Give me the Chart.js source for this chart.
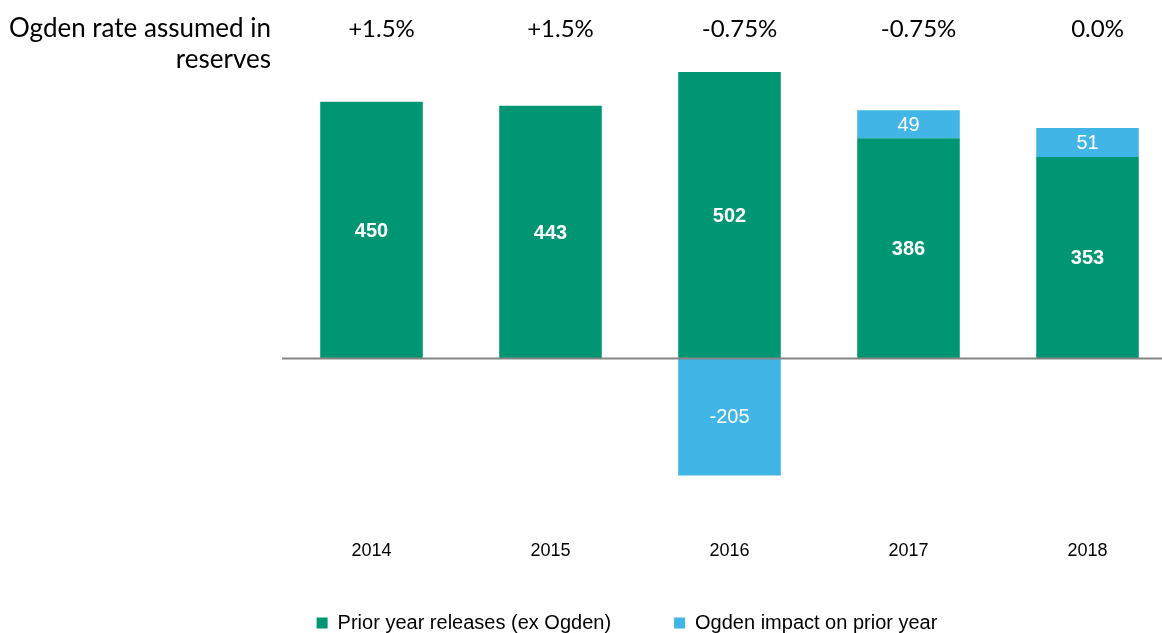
<!DOCTYPE html>
<html>
<head>
<meta charset="utf-8">
<script src="https://cdn.jsdelivr.net/npm/chart.js@4.4.1/dist/chart.umd.min.js"></script>
<style>
    html, body { margin: 0; padding: 0; background: #fff; overflow: hidden; }
    #wrap { position: relative; width: 1177px; height: 643px; }
</style>
</head>
<body>
<div id="wrap"><canvas id="ogdenChart"></canvas></div>
<script>
// Chart data
const years = ['2014', '2015', '2016', '2017', '2018'];
const priorYearReleases = [450, 443, 502, 386, 353];
const ogdenImpact = [null, null, -205, 49, 51];
const ogdenRates = ['+1.5%', '+1.5%', '-0.75%', '-0.75%', '0.0%'];
const rateTitle = ['Ogden rate assumed in', 'reserves'];
const yMin = -283;
const yMax = 558;

const GREEN = '#009674';
const BLUE = '#41b6e6';
const ARIAL = "'Liberation Sans', Arial, sans-serif";
const LEGEND_LIFT = 12;

// White value labels inside the bars
const barLabels = {
    id: 'barLabels',
    afterDatasetsDraw(chart) {
        const ctx = chart.ctx;
        ctx.save();
        ctx.fillStyle = '#fff';
        ctx.textAlign = 'center';
        ctx.textBaseline = 'middle';
        chart.data.datasets.forEach((ds, di) => {
            const meta = chart.getDatasetMeta(di);
            ctx.font = (di === 0 ? 'bold ' : '') + '20px ' + ARIAL;
            meta.data.forEach((bar, i) => {
                const v = ds.data[i];
                if (v === null || v === undefined) return;
                const p = bar.getProps(['x', 'y', 'base'], true);
                ctx.fillText(String(v), p.x, (p.y + p.base) / 2 + 1);
            });
        });
        ctx.restore();
    }
};

// Zero line and the Ogden rate row on top
const extras = {
    id: 'extras',
    afterDatasetsDraw(chart) {
        const ctx = chart.ctx;
        const x = chart.scales.x;
        const y = chart.scales.y;
        const zero = y.getPixelForValue(0);
        ctx.save();
        ctx.strokeStyle = '#858585';
        ctx.lineWidth = 2;
        ctx.beginPath();
        ctx.moveTo(x.left, zero);
        ctx.lineTo(chart.width, zero);
        ctx.stroke();

        ctx.fillStyle = '#000';
        ctx.textBaseline = 'alphabetic';
        ctx.textAlign = 'right';
        ctx.font = '26px Lato, sans-serif';
        ctx.fillText(rateTitle[0], 271, 37);
        ctx.fillText(rateTitle[1], 271, 68);
        ctx.textAlign = 'center';
        ctx.font = '24px Lato, sans-serif';
        ogdenRates.forEach((r, i) => {
            ctx.fillText(r, x.getPixelForValue(i) + 10, 37);
        });
        ctx.restore();
    }
};

// The legend needs a wide gap between items but sits close to the axis labels,
// so it is reserved a bit shorter and then lifted back up after layout
const legendLift = {
    id: 'legendLift',
    beforeLayout(chart) {
        const lg = chart.legend;
        if (lg && !lg._origFit) {
            lg._origFit = lg.fit;
            lg.fit = function () {
                this._origFit();
                this.height -= LEGEND_LIFT;
            };
        }
    },
    afterLayout(chart) {
        if (chart.legend) chart.legend.top -= LEGEND_LIFT;
    }
};

new Chart(document.getElementById('ogdenChart'), {
    type: 'bar',
    data: {
        labels: years,
        datasets: [{
            label: 'Prior year releases (ex Ogden)',
            data: priorYearReleases,
            backgroundColor: GREEN,
            borderWidth: 0
        }, {
            label: 'Ogden impact on prior year',
            data: ogdenImpact,
            backgroundColor: BLUE,
            borderWidth: 0
        }]
    },
    options: {
        responsive: true,
        maintainAspectRatio: false,
        animation: false,
        layout: { padding: { left: 77, right: 0, top: 40, bottom: 0 } },
        datasets: {
            bar: { barPercentage: 0.573, categoryPercentage: 1 }
        },
        plugins: {
            legend: {
                position: 'bottom',
                labels: {
                    boxWidth: 11,
                    boxHeight: 11,
                    padding: 63,
                    color: '#000',
                    font: { family: ARIAL, size: 20 }
                }
            },
            tooltip: { enabled: false }
        },
        scales: {
            x: {
                stacked: true,
                grid: { display: false, drawTicks: false },
                border: { display: false },
                ticks: {
                    color: '#000',
                    padding: 20,
                    maxRotation: 0,
                    font: { family: ARIAL, size: 18 }
                },
                afterFit(scale) { scale.height = 42; }
            },
            y: {
                stacked: true,
                min: yMin,
                max: yMax,
                grid: { display: false },
                border: { display: false },
                ticks: { display: false },
                afterFit(scale) { scale.width = 205; }
            }
        }
    },
    plugins: [barLabels, extras, legendLift]
});
</script>
</body>
</html>
